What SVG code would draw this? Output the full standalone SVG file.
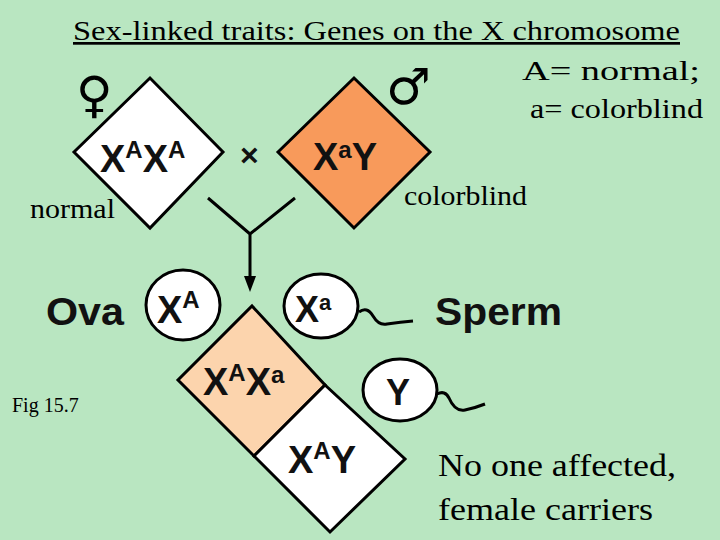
<svg xmlns="http://www.w3.org/2000/svg" width="720" height="540" viewBox="0 0 720 540">
<style>
.d{stroke:#000;stroke-width:3;stroke-linejoin:miter}
.g{font-family:"Liberation Sans",Arial,sans-serif;font-weight:bold;fill:#111}
.s{font-family:"Liberation Serif","Times New Roman",serif;fill:#000}
.sym{font-family:"DejaVu Sans",sans-serif;fill:#000}
.c{fill:#fff;stroke:#000;stroke-width:3}
.l{fill:none;stroke:#000;stroke-width:3}
</style>
<rect width="720" height="540" fill="#b9e6c1"/>
<text class="s" x="73" y="40" font-size="27" text-decoration="underline" textLength="607" lengthAdjust="spacingAndGlyphs">Sex-linked traits:  Genes on the X chromosome</text>
<text class="s" x="522" y="80" font-size="28" textLength="178" lengthAdjust="spacingAndGlyphs">A= normal;</text>
<text class="s" x="530" y="118" font-size="28" textLength="173" lengthAdjust="spacingAndGlyphs">a= colorblind</text>
<g id="female">
<text class="sym" x="76" y="112" font-size="50">♀</text>
<polygon class="d" points="74,152 150,78 223,152 150,228" fill="#fff"/>
<text class="g" x="100" y="172" font-size="38">X<tspan font-size="24" dy="-14">A</tspan><tspan dy="14">X</tspan><tspan font-size="24" dy="-14">A</tspan></text>
<text class="s" x="30" y="218" font-size="27" textLength="85" lengthAdjust="spacingAndGlyphs">normal</text>
</g>
<g id="cross"><text class="g" x="240" y="166" font-size="32" font-weight="normal">×</text></g>
<g id="male">
<text class="sym" x="386" y="104" font-size="50">♂</text>
<polygon class="d" points="278,152 354,78 430,152 354,228" fill="#f89a5b"/>
<text class="g" x="313" y="170" font-size="38">X<tspan font-size="24" dy="-12">a</tspan><tspan dy="12">Y</tspan></text>
<text class="s" x="404" y="205" font-size="27" textLength="123" lengthAdjust="spacingAndGlyphs">colorblind</text>
</g>
<g id="connectors">
<path class="l" d="M208,198 L250,234 L295,198 M250,234 L250,282"/>
<path d="M244,276 L256,276 L250,292 Z"/>
<path class="l" d="M359,312 q8,-6 14,4 q6,10 14,8 q14,-2 26,-3" stroke-width="2.5"/>
<path class="l" d="M437,394 q8,-4 12,4 q6,14 16,12 q10,-2 20,-6" stroke-width="2.5"/>
</g>
<g id="ova">
<text class="g" x="46" y="325" font-size="38" textLength="78" lengthAdjust="spacingAndGlyphs">Ova</text>
<ellipse class="c" cx="183" cy="305" rx="37" ry="35"/>
<text class="g" x="157" y="323" font-size="38">X<tspan font-size="24" dy="-15">A</tspan></text>
</g>
<g id="sperm-xa">
<ellipse class="c" cx="321" cy="306" rx="37" ry="32"/>
<text class="g" x="295" y="322" font-size="36">X<tspan font-size="22" dy="-12">a</tspan></text>
</g>
<g id="sperm-y">
<ellipse class="c" cx="400" cy="390" rx="37" ry="31"/>
<text class="g" x="386" y="405" font-size="36">Y</text>
</g>
<g id="sperm-label"><text class="g" x="435" y="325" font-size="38" textLength="127" lengthAdjust="spacingAndGlyphs">Sperm</text></g>
<g id="daughter">
<polygon class="d" points="252,306 325,385 254,456 178,380" fill="#fcd4ad"/>
<text class="g" x="203" y="395" font-size="38">X<tspan font-size="24" dy="-14">A</tspan><tspan dy="14">X</tspan><tspan font-size="24" dy="-12">a</tspan></text>
</g>
<g id="son">
<polygon class="d" points="325,385 405,459 330,532 254,456" fill="#fff"/>
<text class="g" x="288" y="473" font-size="38">X<tspan font-size="24" dy="-14">A</tspan><tspan dy="14">Y</tspan></text>
</g>
<text class="s" x="12" y="412" font-size="20">Fig 15.7</text>
<text class="s" x="438" y="476" font-size="32" textLength="238" lengthAdjust="spacingAndGlyphs">No one affected,</text>
<text class="s" x="438" y="520" font-size="32" textLength="215" lengthAdjust="spacingAndGlyphs">female carriers</text>
</svg>
